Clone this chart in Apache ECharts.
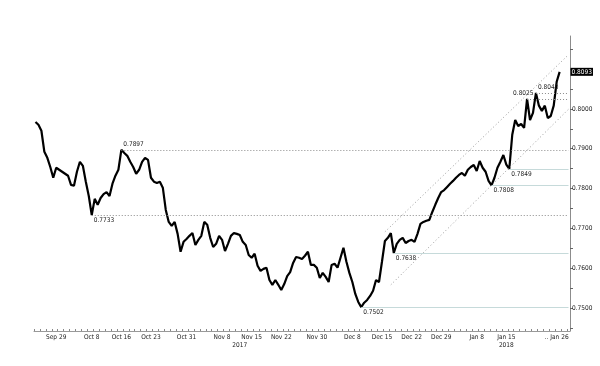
<!DOCTYPE html>
<html><head><meta charset="utf-8">
<script src="https://cdn.jsdelivr.net/npm/echarts@6/dist/echarts.min.js"></script>
<style>html,body{margin:0;padding:0;background:#fff}#c{width:600px;height:366px}</style>
</head><body><div id="c"></div>
<script>
// ---- data ----
const firstDay = '2017-09-26';
const slotCount = 181; // two sessions per weekday, incl. empty space after last price
const price = [
0.7967,0.7960,0.7945,0.7892,0.7877,0.7854,0.7827,0.7852,0.7847,0.7842,
0.7837,0.7832,0.7809,0.7807,0.7842,0.7867,0.7857,0.7817,0.7781,0.7733,
0.7774,0.7759,0.7776,0.7786,0.7791,0.7781,0.7812,0.7832,0.7847,0.7897,
0.7889,0.7882,0.7867,0.7854,0.7837,0.7847,0.7867,0.7877,0.7872,0.7827,
0.7817,0.7814,0.7817,0.7802,0.7746,0.7716,0.7706,0.7716,0.7686,0.7641,
0.7666,0.7673,0.7681,0.7688,0.7658,0.7671,0.7681,0.7716,0.7709,0.7676,
0.7653,0.7661,0.7681,0.7671,0.7643,0.7661,0.7681,0.7688,0.7686,0.7683,
0.7666,0.7658,0.7633,0.7626,0.7636,0.7606,0.7593,0.7598,0.7601,0.7570,
0.7558,0.7570,0.7558,0.7545,0.7560,0.7580,0.7590,0.7613,0.7628,0.7626,
0.7623,0.7631,0.7641,0.7608,0.7608,0.7601,0.7575,0.7588,0.7578,0.7565,
0.7608,0.7611,0.7601,0.7626,0.7651,0.7616,0.7588,0.7565,0.7535,0.7515,
0.7502,0.7513,0.7520,0.7530,0.7543,0.7570,0.7565,0.7616,0.7668,0.7676,
0.7688,0.7638,0.7661,0.7671,0.7676,0.7663,0.7668,0.7671,0.7666,0.7686,
0.7711,0.7716,0.7719,0.7721,0.7741,0.7759,0.7776,0.7791,0.7796,0.7804,
0.7812,0.7819,0.7827,0.7834,0.7839,0.7832,0.7847,0.7854,0.7859,0.7844,
0.7869,0.7852,0.7842,0.7819,0.7808,0.7827,0.7852,0.7867,0.7884,0.7860,
0.7849,0.7935,0.7972,0.7957,0.7962,0.7952,0.8025,0.7972,0.7990,0.8040,
0.8008,0.7995,0.8008,0.7977,0.7982,0.8008,0.8068,0.8093
];
const xTickLabels = {
  '2017-09-29 PM':'Sep 29','2017-10-09 PM':'Oct 8','2017-10-16 PM':'Oct 16','2017-10-23 PM':'Oct 23',
  '2017-10-31 PM':'Oct 31','2017-11-08 PM':'Nov 8','2017-11-13 PM':'\n2017','2017-11-15 PM':'Nov 15',
  '2017-11-22 PM':'Nov 22','2017-11-30 PM':'Nov 30','2017-12-08 PM':'Dec 8','2017-12-15 PM':'Dec 15',
  '2017-12-22 PM':'Dec 22','2017-12-29 PM':'Dec 29','2018-01-08 PM':'Jan 8','2018-01-15 PM':'Jan 15\n2018',
  '2018-01-26 AM':'.. Jan 26'
};
const yLabelValues = [0.75,0.76,0.77,0.78,0.79,0.80];
const yTickValues = [0.745,0.75,0.755,0.76,0.765,0.77,0.775,0.78,0.785,0.79,0.795,0.80,0.805,0.81,0.815];
const yMin = 0.7442, yMax = 0.8183;
const resistanceLevels = [['2017-10-16 PM',0.7897],['2017-10-09 PM',0.7733],['2018-01-19 AM',0.8025],['2018-01-22 PM',0.8040]];
const supportLevels = [['2017-12-12 AM',0.7502],['2017-12-19 PM',0.7638],['2018-01-11 AM',0.7808],['2018-01-16 AM',0.7849]];
const channelUpper = [['2017-12-18 AM',0.7691],['2018-01-30 AM',0.8136]];
const channelLower = [['2017-12-19 AM',0.7558],['2018-01-30 AM',0.7999]];
const lastPrice = 0.8093;

// ---- build categories (weekday sessions) ----
const slots = [];
{
  const d = new Date(firstDay + 'T00:00:00Z');
  while (slots.length < slotCount) {
    const wd = d.getUTCDay();
    if (wd !== 0 && wd !== 6) {
      const s = d.toISOString().slice(0,10);
      slots.push(s + ' AM');
      if (slots.length < slotCount) slots.push(s + ' PM');
    }
    d.setUTCDate(d.getUTCDate() + 1);
  }
}
const axisEnd = slots[slots.length - 1];
const FONT = 'Liberation Sans Narrow, DejaVu Sans Condensed, Liberation Sans, sans-serif';
const txt = {fontSize: 6.5, color: '#222', fontFamily: FONT};

const labelPos = {0.7897:'insideStartTop',0.7733:'insideStartBottom',0.8025:'insideStartTop',0.8040:'insideStartTop',
  0.7502:'insideStartBottom',0.7638:'insideStartBottom',0.7808:'insideStartBottom',0.7849:'insideStartBottom'};
const labelShift = {0.8025:[-16,0]};

const mlData = [];
resistanceLevels.forEach(([c,v]) => mlData.push([
  {coord:[c,v], lineStyle:{color:'#8a8a8a', type:[1,2], width:1},
   label:{show:true, position:labelPos[v], formatter:v.toFixed(4), distance:2, offset:labelShift[v]||[0,0], ...txt}},
  {coord:[axisEnd,v]}]));
supportLevels.forEach(([c,v]) => mlData.push([
  {coord:[c,v], lineStyle:{color:'#c6dada', type:'solid', width:1},
   label:{show:true, position:labelPos[v], formatter:v.toFixed(4), distance:2, ...txt}},
  {coord:[axisEnd,v]}]));
[channelUpper, channelLower].forEach(ch => mlData.push([
  {coord:ch[0], lineStyle:{color:'#9a9a9a', type:[1,2.5], width:1}, label:{show:false}},
  {coord:ch[1]}]));

const chart = echarts.init(document.getElementById('c'), null, {renderer:'canvas'});
chart.setOption({
  animation:false,
  backgroundColor:'#fff',
  grid:{left:34, right:30, top:36, bottom:35},
  xAxis:{
    type:'category', data:slots, boundaryGap:true,
    axisLine:{lineStyle:{color:'#999', width:1}},
    axisTick:{show:true, inside:true, length:2, interval:(i)=> i%2===0, lineStyle:{color:'#888'}},
    axisLabel:{interval:(i,v)=> Object.prototype.hasOwnProperty.call(xTickLabels,v),
      formatter:(v)=> xTickLabels[v] || '', margin:2, lineHeight:8, hideOverlap:false, ...txt},
    splitLine:{show:false}
  },
  yAxis:{
    type:'value', position:'right', min:yMin, max:yMax, scale:true,
    axisLine:{show:true, lineStyle:{color:'#8c8c8c', width:1}},
    axisTick:{show:true, length:3, customValues:yTickValues, lineStyle:{color:'#666'}},
    axisLabel:{customValues:yLabelValues, formatter:(v)=> v.toFixed(4), margin:2, ...txt},
    splitLine:{show:false}
  },
  series:[{
    type:'line', data:price, showSymbol:false, symbol:'none',
    lineStyle:{color:'#000', width:2.2}, lineJoin:'miter', z:3,
    markLine:{silent:true, symbol:['none','none'], animation:false, data:mlData},
    markPoint:{silent:true, animation:false, symbol:'rect', symbolSize:0,
      data:[{coord:[axisEnd,lastPrice],
        label:{show:true, position:'right', distance:2, formatter:lastPrice.toFixed(4),
          backgroundColor:'#000', color:'#fff', padding:[1,1,0,1], fontSize:6.5, fontFamily:FONT}}]}
  }]
});
</script>
</body></html>
